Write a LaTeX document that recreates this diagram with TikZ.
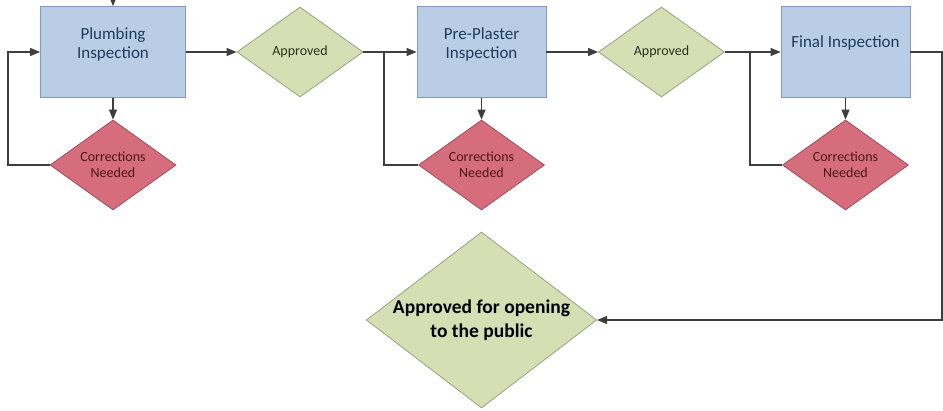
\documentclass[tikz,border=0pt]{standalone}
\usepackage{fontspec}
\setmainfont{Carlito}
\usetikzlibrary{arrows.meta}
\usetikzlibrary{shapes.geometric}
\definecolor{boxfill}{HTML}{BACDE6}
\definecolor{boxline}{HTML}{8199BE}
\definecolor{boxtext}{HTML}{1F3B5C}
\definecolor{okfill}{HTML}{D5DFB3}
\definecolor{okline}{HTML}{99A27E}
\definecolor{oktext}{HTML}{2B3019}
\definecolor{fixfill}{HTML}{D56D7C}
\definecolor{fixline}{HTML}{A24C58}
\definecolor{fixtext}{HTML}{4E1618}
\definecolor{linkgray}{HTML}{3E3E3E}

\begin{document}
\begin{tikzpicture}[x=1pt,y=-1pt,
  insp/.style={rectangle,draw=boxline,fill=boxfill,line width=0.8pt,minimum height=91pt},
  insptext/.style={align=center,text=boxtext,font=\fontsize{17}{19}\selectfont},
  okdia/.style={diamond,draw=okline,fill=okfill,line width=0.8pt,minimum width=126pt,minimum height=90pt,
    inner sep=0pt,aspect=1.4,align=center,text=oktext,font=\fontsize{14}{16}\selectfont},
  fixdia/.style={okdia,draw=fixline,fill=fixfill,text=fixtext},
  plain/.style={draw=linkgray,line width=1.1pt},
  link/.style={plain,-{Triangle[length=10pt,width=8pt]}}]
\useasboundingbox (0,0) rectangle (943,410);

\node[insp,minimum width=145pt] (plumb) at (113,52) {};
\node[insptext] (plumbtxt) at (113,44) {Plumbing\\Inspection};
\node[insp,minimum width=129pt] (ppl) at (481.5,52) {};
\node[insptext] (ppltxt) at (481.5,44) {Pre-Plaster\\Inspection};
\node[insp,minimum width=129pt] (final) at (845.5,52) {};
\node[insptext] (finaltxt) at (845.5,43) {Final Inspection};

\node[okdia] (appr1) at (300,52) {Approved};
\node[okdia] (appr2) at (661.5,52) {Approved};

\node[fixdia] (corr1) at (113,165) {Corrections\\Needed};
\node[fixdia] (corr2) at (481.5,165) {Corrections\\Needed};
\node[fixdia] (corr3) at (845.5,165) {Corrections\\Needed};

\node[okdia,minimum width=230pt,minimum height=176pt,aspect=1.31,text=black,
  font=\fontsize{19.5}{24}\selectfont\bfseries] (public) at (481.5,320) {Approved for opening\\to the public};

\coordinate (top) at (113,-8);
\coordinate (back1) at (8,52);
\coordinate (back2) at (384,52);
\coordinate (back3) at (750,52);
\coordinate (fout) at (942,52);

\draw[link] (top) -- (plumb.north);
\draw[link] (plumb.east) -- (appr1.west);
\draw[link] (appr1.east) -- (ppl.west);
\draw[link] (ppl.east) -- (appr2.west);
\draw[link] (appr2.east) -- (final.west);
\draw[link] (plumb.south) -- (corr1.north);
\draw[link] (ppl.south) -- (corr2.north);
\draw[link] (final.south) -- (corr3.north);
\draw[link] (corr1.west) -| (back1) -- (plumb.west);
\draw[plain] (corr2.west) -| (back2);
\draw[plain] (corr3.west) -| (back3);
\draw[link] (final.east) -- (fout) |- (public.east);
\end{tikzpicture}
\end{document}
